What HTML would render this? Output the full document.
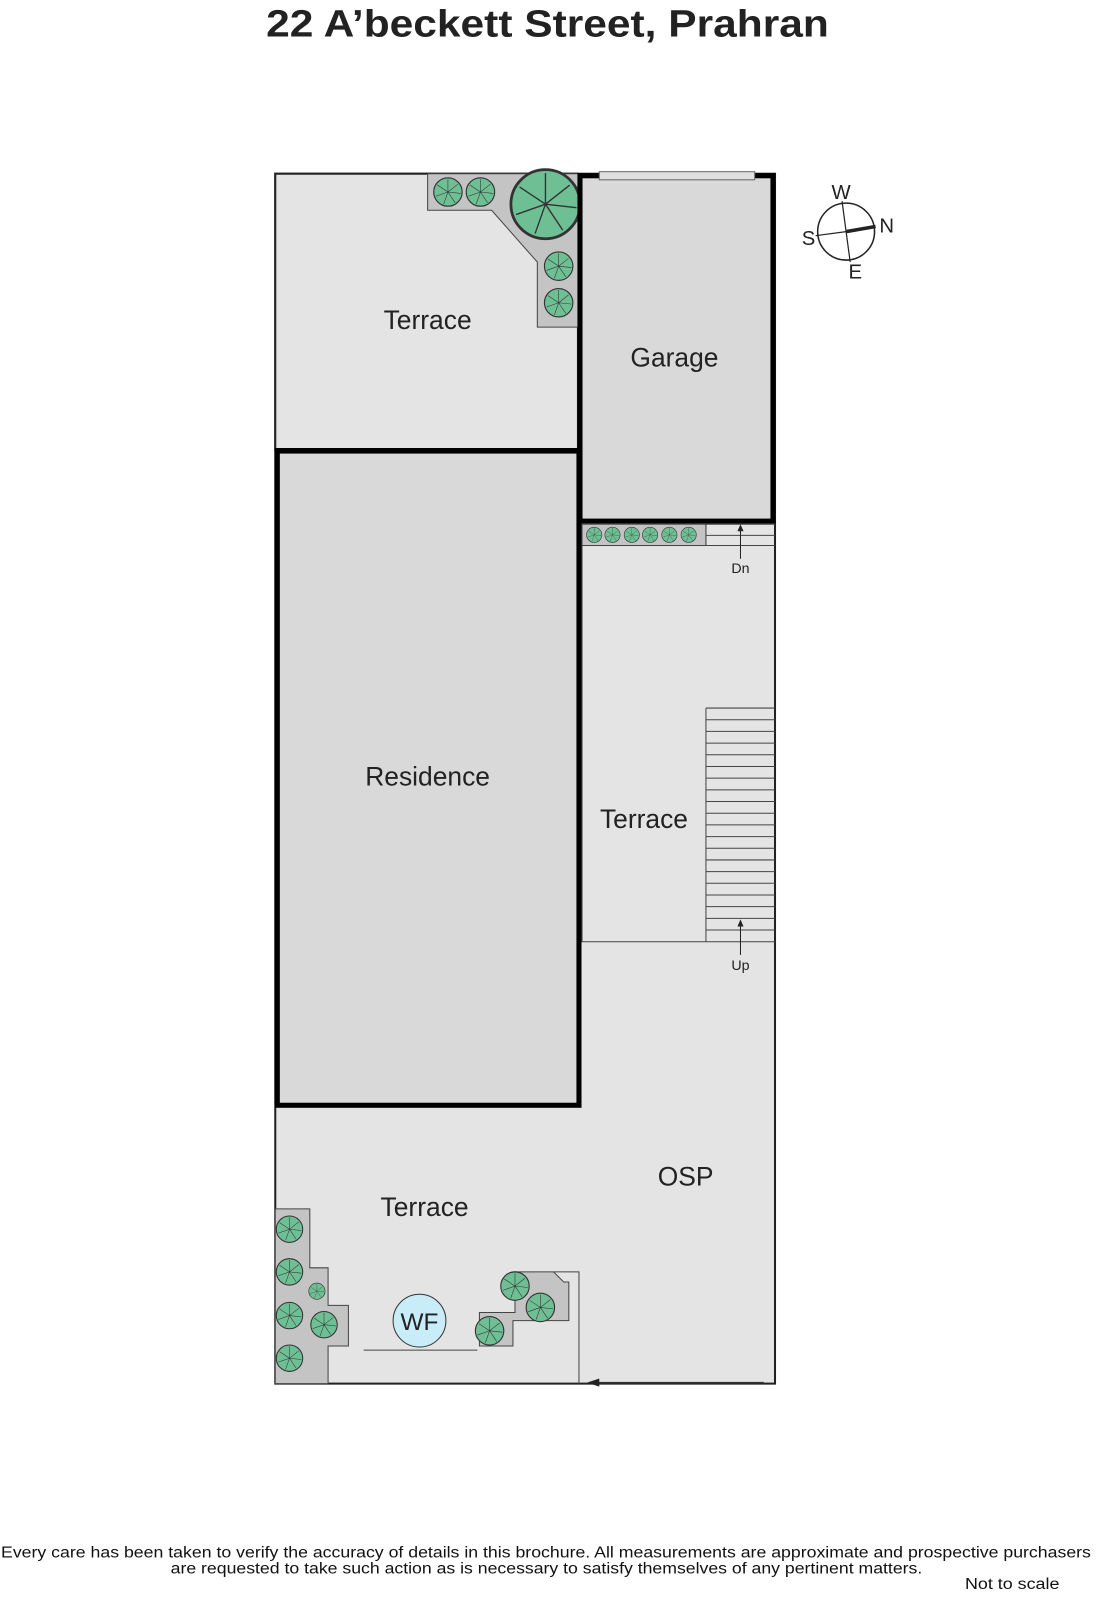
<!DOCTYPE html>
<html><head><meta charset="utf-8"><style>
html,body{margin:0;padding:0;background:#fff;}
svg{display:block;}
text{font-family:"Liberation Sans",sans-serif;}
</style></head><body>
<svg width="1097" height="1600" viewBox="0 0 1080 1575" preserveAspectRatio="none" xmlns="http://www.w3.org/2000/svg">
<defs>
<g id="t"><circle r="1" fill="#6fbf94" stroke="#333" stroke-width="0.08"/><path d="M0 0L0 -0.9M0 0L0.7 -0.55M0 0L0.9 0.1M0 0L0.5 0.75M0 0L-0.3 0.85M0 0L-0.85 0.3M0 0L-0.75 -0.5" stroke="#333" stroke-width="0.04"/></g>
</defs>
<text x="262" y="36" font-size="37" font-weight="bold" fill="#222" textLength="554" lengthAdjust="spacingAndGlyphs">22 A’beckett Street, Prahran</text>
<rect x="271" y="171" width="492" height="1191" fill="#e4e4e4" stroke="#222" stroke-width="2"/>
<rect x="271" y="171" width="298" height="272" fill="#e4e4e4" stroke="#222" stroke-width="2"/>
<polygon points="421,171 569,171 569,322 529,322 529,258 484,207 421,207" fill="#c4c4c4" stroke="#444" stroke-width="1"/>
<use href="#t" transform="translate(441,189) scale(14)"/>
<use href="#t" transform="translate(473,189) scale(14)"/>
<use href="#t" transform="translate(537,201) scale(34)"/>
<use href="#t" transform="translate(550,262) scale(14)"/>
<use href="#t" transform="translate(550,298) scale(14)"/>
<rect x="571" y="173" width="190" height="340" fill="#d9d9d9" stroke="#000" stroke-width="5"/>
<rect x="590" y="169" width="153" height="8" fill="#e0e0e0" stroke="#666" stroke-width="1"/>
<rect x="273" y="444" width="297" height="644" fill="#d9d9d9" stroke="#000" stroke-width="5"/>
<line x1="271" y1="443" x2="571" y2="443" stroke="#000" stroke-width="4"/>
<rect x="573" y="516" width="122" height="21" fill="#c4c4c4" stroke="#444" stroke-width="1"/>
<use href="#t" transform="translate(585,526.5) scale(7.5)"/>
<use href="#t" transform="translate(603,526.5) scale(7.5)"/>
<use href="#t" transform="translate(622,526.5) scale(7.5)"/>
<use href="#t" transform="translate(640,526.5) scale(7.5)"/>
<use href="#t" transform="translate(659,526.5) scale(7.5)"/>
<use href="#t" transform="translate(678,526.5) scale(7.5)"/>
<path d="M695 516H763M695 527H763M695 537H763M695 516V537" stroke="#444" stroke-width="1"/>
<line x1="729" y1="550" x2="729" y2="520" stroke="#222" stroke-width="1"/>
<polygon points="729,516 726,523 732,523" fill="#222"/>
<text x="729" y="564" font-size="14" text-anchor="middle" fill="#222">Dn</text>
<path d="M573 537V927H763" fill="none" stroke="#444" stroke-width="1"/>
<g stroke="#444" stroke-width="1">
<path d="M695 697V927M695 697H763M695 708.5H763M695 720H763M695 731.5H763M695 743H763M695 754.5H763M695 766H763M695 777.5H763M695 789H763M695 800.5H763M695 812H763M695 823.5H763M695 835H763M695 846.5H763M695 858H763M695 869.5H763M695 881H763M695 892.5H763M695 904H763M695 915.5H763"/>
</g>
<line x1="729" y1="940" x2="729" y2="910" stroke="#222" stroke-width="1"/>
<polygon points="729,905 726,912 732,912" fill="#222"/>
<text x="729" y="955" font-size="14" text-anchor="middle" fill="#222">Up</text>
<polygon points="271,1190 305,1190 305,1248 323,1248 323,1285 343,1285 343,1325 323,1325 323,1362 271,1362" fill="#c4c4c4" stroke="#444" stroke-width="1"/>
<use href="#t" transform="translate(285,1210) scale(13)"/>
<use href="#t" transform="translate(285,1252) scale(13)"/>
<use href="#t" transform="translate(312,1271) scale(8)"/>
<use href="#t" transform="translate(285,1295) scale(13)"/>
<use href="#t" transform="translate(319,1304) scale(13)"/>
<use href="#t" transform="translate(285,1337) scale(13)"/>
<polygon points="507,1278 507,1292 472,1292 472,1325 505,1325 505,1300 560,1300 560,1262 555,1262 545,1252 507,1252" fill="#c4c4c4" stroke="#444" stroke-width="1"/>
<use href="#t" transform="translate(507,1266) scale(14)"/>
<use href="#t" transform="translate(532,1287) scale(14)"/>
<use href="#t" transform="translate(482,1310) scale(14)"/>
<path d="M545 1252H570V1362" fill="none" stroke="#444" stroke-width="1"/>
<line x1="358" y1="1329" x2="470" y2="1329" stroke="#444" stroke-width="1"/>
<circle cx="413" cy="1300" r="26" fill="#c8ecf8" stroke="#333" stroke-width="1"/>
<text x="413" y="1309" font-size="24" text-anchor="middle" fill="#222">WF</text>
<line x1="585" y1="1361" x2="752" y2="1361" stroke="#333" stroke-width="1.5"/>
<polygon points="578,1361 590,1357 590,1365" fill="#222"/>
<g font-size="26" fill="#222" text-anchor="middle">
<text x="421" y="324">Terrace</text>
<text x="664" y="361">Garage</text>
<text x="421" y="773">Residence</text>
<text x="634" y="815">Terrace</text>
<text x="675" y="1167">OSP</text>
<text x="418" y="1197">Terrace</text>
</g>
<g stroke="#222" fill="none">
<circle cx="833" cy="228" r="28" stroke-width="1.5"/>
<line x1="829" y1="198" x2="837" y2="258" stroke-width="1.2"/>
<line x1="803" y1="232" x2="833" y2="228" stroke-width="1.2"/>
<line x1="833" y1="228" x2="862" y2="223" stroke-width="3.5"/>
</g>
<g font-size="20" fill="#222" text-anchor="middle">
<text x="828" y="196">W</text>
<text x="796" y="241">S</text>
<text x="873" y="229">N</text>
<text x="842" y="274">E</text>
</g>
<g font-size="15" fill="#111">
<text x="1" y="1533" textLength="1073" lengthAdjust="spacingAndGlyphs">Every care has been taken to verify the accuracy of details in this brochure.  All measurements are approximate and prospective purchasers</text>
<text x="168" y="1549" textLength="740" lengthAdjust="spacingAndGlyphs">are requested to take such action as is necessary to satisfy themselves of any pertinent matters.</text>
<text x="950" y="1564" textLength="93" lengthAdjust="spacingAndGlyphs">Not to scale</text>
</g>
</svg>
</body></html>
